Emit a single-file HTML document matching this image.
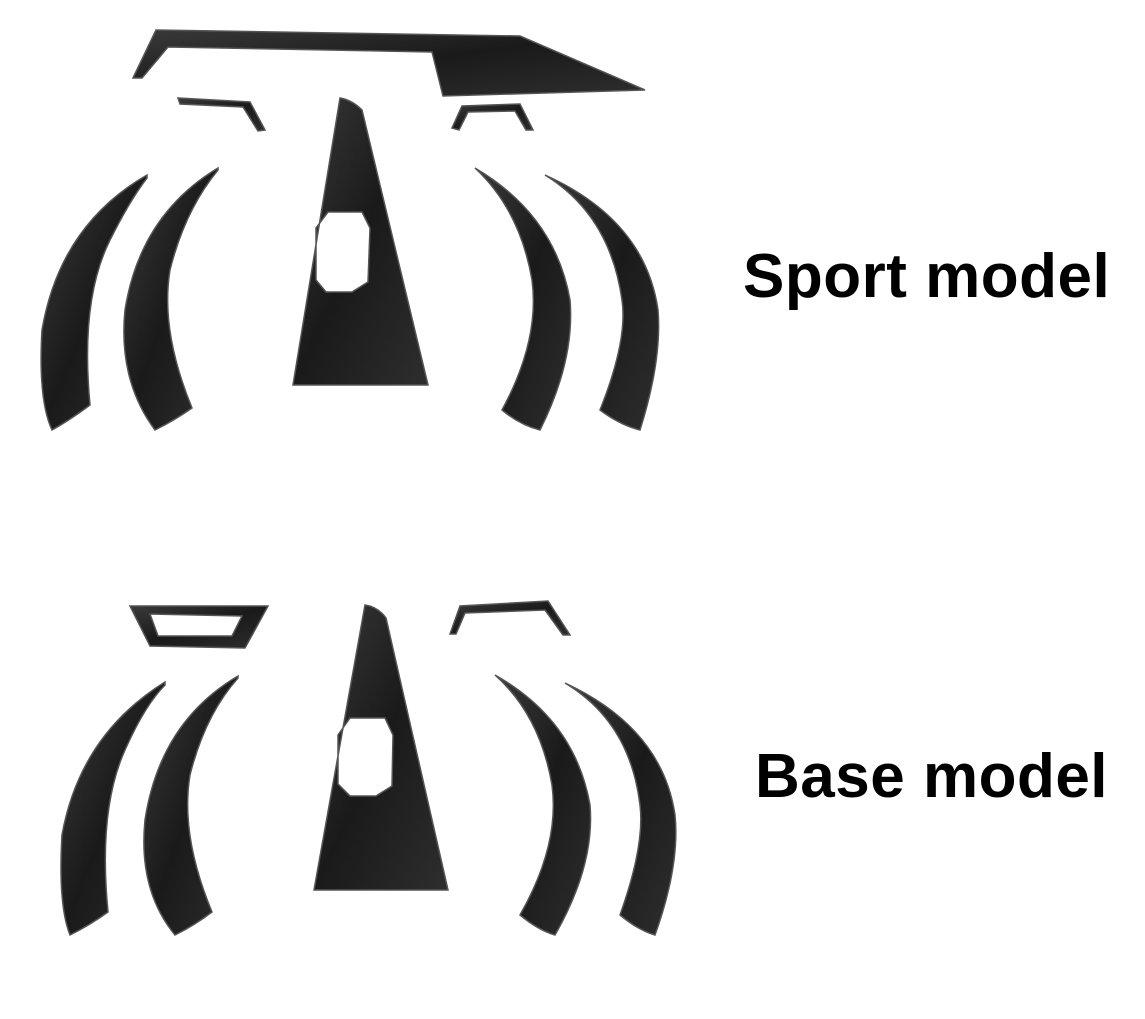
<!DOCTYPE html>
<html><head><meta charset="utf-8"><style>
html,body{margin:0;padding:0;background:#fff;}
.wrap{position:relative;width:1145px;height:1019px;overflow:hidden;}
svg{position:absolute;left:0;top:0;}
.t{position:absolute;font-family:"Liberation Sans",sans-serif;font-weight:bold;font-size:62px;letter-spacing:0.5px;color:#000;white-space:nowrap;}
</style></head><body><div class="wrap">
<svg width="1145" height="1019" viewBox="0 0 1145 1019">
<defs>
<linearGradient id="g" x1="0" y1="0" x2="1" y2="1">
<stop offset="0" stop-color="#3a3a3a"/><stop offset="0.5" stop-color="#1a1a1a"/><stop offset="1" stop-color="#2e2e2e"/>
</linearGradient>
</defs>
<g fill="url(#g)" stroke="#555" stroke-width="1.5">
<path d="M133,78 L156,30 L520,36 L645,90 L443,96 L432,52 L168,47 L142,78 Z"/>
<path d="M178,98 L250,102 L265,130 L258,131 L243,107 L180,104 Z"/>
<path d="M452,128 L462,106 L520,104 L533,130 L526,130 L515,111 L468,112 L459,130 Z"/>
<path fill-rule="evenodd" d="M340,98 Q352,100 362,110 L428,385 L293,385 Z M328,212 L362,212 L370,228 L368,282 L352,292 L326,292 L316,280 L316,228 Z"/>
<path d="M147,175 Q60,225 42,330 Q38,400 52,430 Q70,420 90,405 Q80,300 110,240 Q130,200 147,178 Z"/>
<path d="M218,168 Q140,215 125,310 Q118,380 155,430 Q175,420 192,408 Q160,330 170,270 Q185,210 218,170 Z"/>
<path d="M475,168 Q520,210 532,280 Q540,340 502,410 Q520,425 540,430 Q575,360 570,300 Q555,215 475,168 Z"/>
<path d="M545,175 Q610,215 622,300 Q628,340 600,410 Q620,425 640,430 Q662,360 658,310 Q645,220 545,175 Z"/>
<path fill-rule="evenodd" d="M130,606 L268,606 L245,648 L150,646 Z M150,614 L242,616 L232,636 L158,636 Z"/>
<path d="M450,634 L460,606 L548,601 L570,635 L563,635 L545,610 L465,613 L456,634 Z"/>
<path fill-rule="evenodd" d="M365,605 Q378,607 386,618 L448,890 L314,890 Z M350,718 L385,718 L393,735 L392,786 L376,796 L350,796 L338,784 L338,735 Z"/>
<path d="M165,682 Q80,735 62,835 Q58,905 70,935 Q90,925 108,912 Q98,810 125,750 Q145,705 165,685 Z"/>
<path d="M238,676 Q160,722 145,820 Q138,890 175,935 Q195,925 212,912 Q180,835 190,775 Q205,715 238,678 Z"/>
<path d="M495,675 Q540,715 552,785 Q560,845 520,915 Q538,930 555,935 Q595,865 590,805 Q575,720 495,675 Z"/>
<path d="M565,683 Q630,722 640,805 Q645,845 620,915 Q638,930 655,935 Q680,865 675,815 Q662,728 565,683 Z"/>
</g>
</svg>
<div class="t" style="left:743px;top:241px;">Sport model</div>
<div class="t" style="left:755px;top:741px;">Base model</div>
</div></body></html>
